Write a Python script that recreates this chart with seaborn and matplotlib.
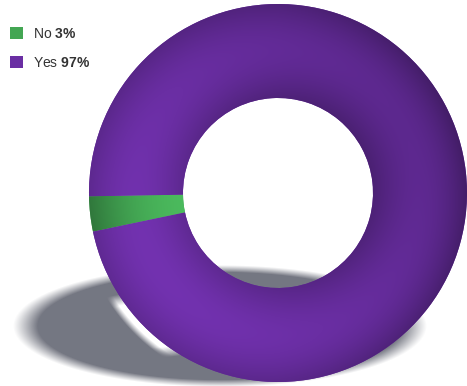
import numpy as np
import matplotlib
matplotlib.use("Agg")
import matplotlib.pyplot as plt
import seaborn as sns
from matplotlib.patches import Patch

# ---- data ----
categories = ["No", "Yes"]
values = [3, 97]
pct_labels = ["3%", "97%"]
hex_colors = ["#43a653", "#6a2ea3"]

sns.set_theme(style="white")
plt.rcParams["font.family"] = ["Liberation Sans", "DejaVu Sans"]
plt.rcParams["mathtext.fontset"] = "custom"
plt.rcParams["mathtext.rm"] = "Liberation Sans"
plt.rcParams["mathtext.bf"] = "Liberation Sans:bold"

colors = sns.color_palette(hex_colors)

W, H = 467, 386
fig = plt.figure(figsize=(W / 100, H / 100), dpi=100)
fig.patch.set_facecolor("white")
ax = fig.add_axes([0, 0, 1, 1])

cx, cy = 278, H - 193
R, Ri = 189, 95

# pixel grid (data coords, y up)
rows, cols = np.mgrid[0:H, 0:W]
X = cols + 0.5
Y = H - (rows + 0.5)

# ---- soft shadow (decoration) ----
scx, scy = 220, H - 326
d_out = np.sqrt(((X - scx) / 207) ** 2 + ((Y - scy) / 61) ** 2)
d_in = np.sqrt(((X - 150) / 75) ** 2 + ((Y - (H - 325)) / 30) ** 2)
d_c = np.hypot(X - (cx - 10), Y - (cy - 7)) / R
inside_e = np.clip((1.1 - d_in) / 0.35, 0, 1)
inside_c = np.clip((1 - d_c) / 0.035, 0, 1)
gap = inside_e * inside_c
a = np.clip((1 - d_out) / 0.12, 0, 1) * (1 - gap)
a = a ** 1.1 * 0.85
shadow = np.zeros((H, W, 4))
shadow[..., 0] = 0.36
shadow[..., 1] = 0.37
shadow[..., 2] = 0.42
shadow[..., 3] = a
ax.imshow(shadow, extent=(0, W, 0, H), origin="upper", zorder=0, interpolation="bilinear")

# ---- donut ----
wedges, _ = ax.pie(values, colors=colors, startangle=181, counterclock=True,
                   radius=R, center=(cx, cy), frame=True,
                   wedgeprops=dict(width=R - Ri, linewidth=0))
for w in wedges:
    w.set_zorder(2)

dx, dy = X - cx, Y - cy
r = np.hypot(dx, dy)
th = np.arctan2(dy, dx)
t = np.clip((r - Ri) / (R - Ri), 0, 1)
tube = np.sin(np.pi * t)
dirterm = (-np.cos(th) - 0.6 * np.sin(th)) / 1.17

for w, col, name in zip(wedges, colors, categories):
    base = np.array(col)
    if name == "No":
        f = 0.72 + 0.45 * (1 - t) * 0.9 + 0.08 * tube
    else:
        f = 0.8 + 0.18 * tube + 0.1 * dirterm - 0.08 * (t ** 4) * np.clip(np.cos(th), 0, 1)
    img = np.zeros((H, W, 4))
    for k in range(3):
        img[..., k] = np.clip(base[k] * f, 0, 1)
    img[..., 3] = 1.0
    im = ax.imshow(img, extent=(0, W, 0, H), origin="upper", zorder=3, interpolation="bilinear")
    im.set_clip_path(w)

ax.set_xlim(0, W)
ax.set_ylim(0, H)
ax.set_aspect("equal")
ax.axis("off")

# ---- legend ----
handles = [Patch(facecolor=c, edgecolor="none") for c in colors]
labels = [f"{c} $\\mathbf{{{p.replace('%', chr(92) + '%')}}}$" for c, p in zip(categories, pct_labels)]
fig.legend(handles, labels, loc="upper left", bbox_to_anchor=(0.0, 0.955),
           frameon=False, fontsize=10, handlelength=0.95, handleheight=0.95,
           handletextpad=0.75, labelspacing=1.05, borderaxespad=0.3, labelcolor="#333333")

fig.savefig("out.png", dpi=100, facecolor="white")
